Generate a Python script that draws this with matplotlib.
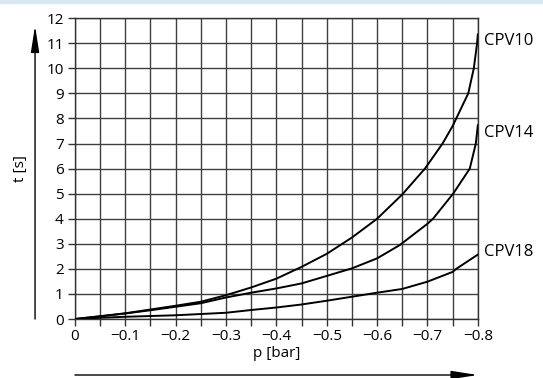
import numpy as np
import matplotlib
matplotlib.use("Agg")
import matplotlib.pyplot as plt
from matplotlib.patches import Rectangle

plt.rcParams['font.family'] = ['Open Sans', 'DejaVu Sans']

# curves: p [bar] vs t [s]
p_10 = [0, -0.05, -0.1, -0.15, -0.2, -0.25, -0.3, -0.35, -0.4, -0.45, -0.5,
        -0.55, -0.6, -0.65, -0.695, -0.73, -0.75, -0.781, -0.792, -0.7985, -0.8]
t_10 = [0, 0.11, 0.23, 0.38, 0.53, 0.69, 0.95, 1.26, 1.61, 2.08, 2.6,
        3.25, 4.0, 4.97, 6.0, 7.0, 7.7, 9.0, 10.0, 11.0, 11.35]

p_14 = [0, -0.05, -0.1, -0.15, -0.2, -0.25, -0.3, -0.35, -0.4, -0.45, -0.5,
        -0.55, -0.6, -0.645, -0.7, -0.711, -0.751, -0.784, -0.796, -0.8]
t_14 = [0, 0.11, 0.22, 0.35, 0.49, 0.63, 0.86, 1.05, 1.22, 1.42, 1.72,
        2.02, 2.42, 2.95, 3.8, 4.0, 5.0, 6.0, 7.0, 7.73]

p_18 = [0, -0.05, -0.1, -0.15, -0.2, -0.25, -0.3, -0.35, -0.4, -0.45, -0.5,
        -0.55, -0.6, -0.65, -0.7, -0.75, -0.757, -0.8]
t_18 = [0, 0.05, 0.09, 0.12, 0.15, 0.2, 0.25, 0.36, 0.46, 0.58, 0.73,
        0.89, 1.05, 1.2, 1.49, 1.88, 2.0, 2.57]

names = ['CPV10', 'CPV14', 'CPV18']
label_t = [11.1, 7.4, 2.67]

x_ticks = [0, -0.1, -0.2, -0.3, -0.4, -0.5, -0.6, -0.7, -0.8]
x_ticklabels = ['0', '\u22120.1', '\u22120.2', '\u22120.3', '\u22120.4',
                '\u22120.5', '\u22120.6', '\u22120.7', '\u22120.8']
y_ticks = list(range(0, 13))

fig = plt.figure(figsize=(5.43, 3.78), dpi=100)
# thin light blue band at the top
fig.patches.append(Rectangle((0, 0.991), 1, 0.009, transform=fig.transFigure,
                             color='#d6e8f3', zorder=0))
ax = fig.add_axes([0.138, 0.156, 0.742, 0.796])

ax.set_xlim(0, -0.8)
ax.set_ylim(0, 12)
ax.set_xticks(x_ticks)
ax.set_xticklabels(x_ticklabels, fontsize=11)
ax.set_xticks(np.arange(-0.05, -0.8, -0.1), minor=True)
ax.set_yticks(y_ticks)
ax.set_yticklabels([str(v) for v in y_ticks], fontsize=11)
ax.tick_params(which='both', direction='out', length=5, width=1, color='#333333')
ax.tick_params(axis='x', pad=2)
ax.tick_params(axis='y', pad=3)

ax.grid(True, which='both', color='#404040', lw=1.0)
for s in ax.spines.values():
    s.set_color('#333333')
    s.set_linewidth(1.0)

ax.plot(p_10, t_10, color='black', lw=1.4, zorder=3)
ax.plot(p_14, t_14, color='black', lw=1.4, zorder=3)
ax.plot(p_18, t_18, color='black', lw=1.4, zorder=3)

for name, ty in zip(names, label_t):
    ax.text(-0.812, ty, name, fontsize=12, va='center', ha='left', clip_on=False)

ax.text(0.5, -0.115, 'p [bar]', transform=ax.transAxes, ha='center', va='center', fontsize=11)
ax.text(-0.135, 0.5, 't [s]', transform=ax.transAxes, ha='center', va='center',
        rotation=90, fontsize=11)

# axis direction arrows
ax.annotate('', xy=(1.0, -0.186), xytext=(0.0, -0.186), xycoords='axes fraction',
            textcoords='axes fraction',
            arrowprops=dict(arrowstyle='-|>,head_length=1.6,head_width=0.25',
                            color='black', lw=1.0, shrinkA=0, shrinkB=0))
ax.annotate('', xy=(-0.099, 0.975), xytext=(-0.099, 0.0), xycoords='axes fraction',
            textcoords='axes fraction',
            arrowprops=dict(arrowstyle='-|>,head_length=1.6,head_width=0.25',
                            color='black', lw=1.0, shrinkA=0, shrinkB=0))

fig.savefig('out.png', dpi=100)
